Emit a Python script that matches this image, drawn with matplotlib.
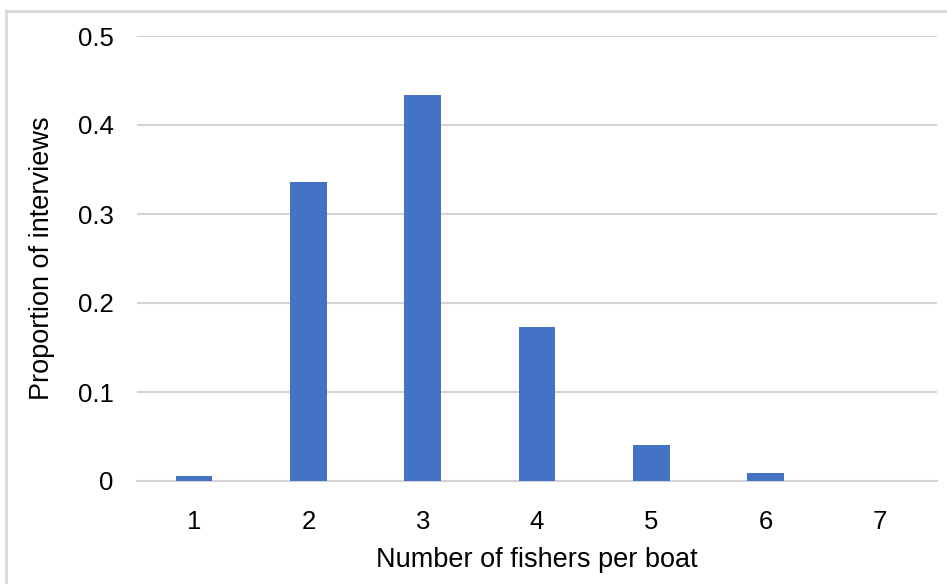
import matplotlib
matplotlib.use("Agg")
import matplotlib.pyplot as plt
from matplotlib.lines import Line2D

fishers = ["1", "2", "3", "4", "5", "6", "7"]
proportion = [0.006, 0.336, 0.434, 0.173, 0.040, 0.009, 0.0]
yticks = [0, 0.1, 0.2, 0.3, 0.4, 0.5]
ytick_labels = ["0", "0.1", "0.2", "0.3", "0.4", "0.5"]

plt.rcParams["font.family"] = ["Liberation Sans", "DejaVu Sans"]

W, H = 947, 584
fig = plt.figure(figsize=(W / 100, H / 100), dpi=100)
ax = fig.add_axes([137 / W, 1 - 481 / H, 800 / W, 445 / H])

x = range(len(fishers))
ax.bar(x, proportion, width=0.32, color="#4472C4", zorder=3)

ax.set_xlim(-0.5, len(fishers) - 0.5)
ax.set_ylim(0, 0.5)
ax.set_yticks(yticks)
ax.set_yticklabels(ytick_labels)
ax.set_xticks(list(x))
ax.set_xticklabels(fishers)

ax.grid(axis="y", color="#d4d4d4", linewidth=1.5, zorder=0)
for s in ["top", "right", "left"]:
    ax.spines[s].set_visible(False)
ax.spines["bottom"].set_color("#d4d4d4")
ax.spines["bottom"].set_linewidth(1.5)
ax.tick_params(axis="both", length=0, labelsize=18.5, colors="#000000")
ax.tick_params(axis="y", pad=17)
ax.tick_params(axis="x", pad=21)

ax.set_xlabel("Number of fishers per boat", fontsize=19.5, labelpad=9)
ax.set_ylabel("Proportion of interviews", fontsize=19.5, labelpad=16)

# chart outer border (top and left visible)
fig.add_artist(Line2D([6 / W, 6 / W], [0, 1 - 10.5 / H], transform=fig.transFigure,
                      color="#d9d9d9", linewidth=2))
fig.add_artist(Line2D([6 / W, 1], [1 - 10.5 / H, 1 - 10.5 / H], transform=fig.transFigure,
                      color="#d9d9d9", linewidth=2))

fig.savefig("out.png", dpi=100)
